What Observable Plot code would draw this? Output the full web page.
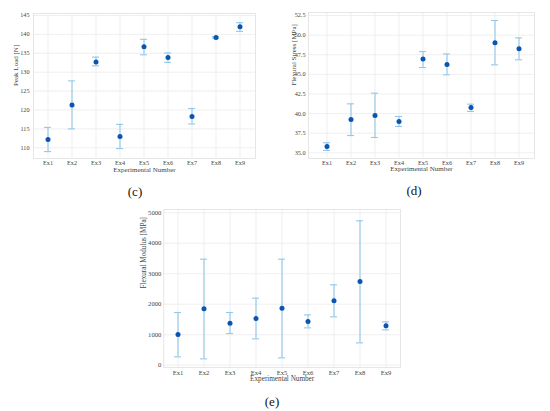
<!DOCTYPE html>
<html>
<head>
<meta charset="utf-8">
<script src="https://cdn.jsdelivr.net/npm/d3@7"></script>
<script src="https://cdn.jsdelivr.net/npm/@observablehq/plot@0.6"></script>
<style>
  html, body { margin: 0; padding: 0; background: #fff; }
  #root { position: relative; width: 550px; height: 411px; overflow: hidden; font-family: 'Liberation Serif', 'Times New Roman', serif; }
  .panel { position: absolute; }
  .tag { position: absolute; font-size: 13px; color: #111; transform: translate(-50%, -50%); white-space: nowrap; font-family: 'Liberation Serif', serif; }
</style>
</head>
<body>
<div id="root"></div>
<script>
const categories = ["Ex1", "Ex2", "Ex3", "Ex4", "Ex5", "Ex6", "Ex7", "Ex8", "Ex9"];

const peakLoadMean = [112.2, 121.3, 132.7, 113.0, 136.7, 133.9, 118.3, 139.2, 142.0];
const peakLoadLow  = [109.0, 115.0, 131.7, 109.8, 134.6, 132.6, 116.3, 139.0, 140.8];
const peakLoadHigh = [115.4, 127.7, 134.0, 116.2, 138.7, 135.1, 120.4, 139.4, 143.1];
const peakLoadTicks = [110, 115, 120, 125, 130, 135, 140, 145];

const stressMean = [35.8, 39.25, 39.76, 39.0, 46.94, 46.26, 40.78, 49.02, 48.25];
const stressLow  = [35.3, 37.2, 36.95, 38.36, 45.87, 44.94, 40.27, 46.21, 46.85];
const stressHigh = [36.28, 41.24, 42.6, 39.63, 47.9, 47.6, 41.2, 51.86, 49.65];
const stressTicks = [35.0, 37.5, 40.0, 42.5, 45.0, 47.5, 50.0, 52.5];

const modulusMean = [1006, 1849, 1379, 1532, 1871, 1433, 2112, 2746, 1291];
const modulusLow  = [274, 208, 1039, 864, 241, 1225, 1586, 733, 1160];
const modulusHigh = [1729, 3479, 1729, 2199, 3479, 1652, 2637, 4737, 1422];
const modulusTicks = [0, 1000, 2000, 3000, 4000, 5000];

const xTitle = "Experimental Number";
const panelTags = ["(c)", "(d)", "(e)"];

const root = document.getElementById("root");

function panel(cfg) {
  const rows = categories.map((c, i) => ({cat: c, mean: cfg.mean[i], low: cfg.low[i], high: cfg.high[i]}));
  const step = (cfg.c9 - cfg.c1) / 8;
  const svg = Plot.plot({
    width: cfg.width,
    height: cfg.height,
    marginLeft: cfg.ml, marginRight: cfg.mr, marginTop: cfg.mt, marginBottom: cfg.mb,
    style: {fontFamily: "'Liberation Serif', 'Times New Roman', serif", fontSize: cfg.tickFont + "px", color: "#444", background: "transparent", overflow: "visible"},
    x: {type: "band", domain: categories, range: [cfg.c1 - step / 2, cfg.c9 + step / 2], paddingInner: 0.72, paddingOuter: 0.36,
        tickSize: 0, tickPadding: cfg.xPad, label: null},
    y: {domain: [cfg.ticks[0], cfg.ticks[cfg.ticks.length - 1]], range: cfg.yRange, ticks: cfg.ticks,
        tickFormat: cfg.fmt, tickSize: 0, tickPadding: cfg.yPad, label: null},
    marks: [
      Plot.ruleY(cfg.ticks, {stroke: "#ebebeb", strokeWidth: 0.8}),
      Plot.ruleX(categories, {stroke: "#ebebeb", strokeWidth: 0.8}),
      Plot.frame({stroke: "#e0e0e0", strokeWidth: 0.8}),
      Plot.ruleX(rows, {x: "cat", y1: "low", y2: "high", stroke: "#92c8ea", strokeWidth: 1.1}),
      Plot.tickY(rows, {x: "cat", y: "low", stroke: "#92c8ea", strokeWidth: 1.1}),
      Plot.tickY(rows, {x: "cat", y: "high", stroke: "#92c8ea", strokeWidth: 1.1}),
      Plot.dot(rows, {x: "cat", y: "mean", r: 2.5, fill: "#0b55b0", stroke: "none"}),
      Plot.text([xTitle], {frameAnchor: "bottom", dy: cfg.xTitleDy, text: d => d, fontSize: cfg.labelFont, fill: "#444"}),
      Plot.text([cfg.yLabel], {frameAnchor: "left", dx: cfg.yTitleDx, rotate: -90, text: d => d, fontSize: cfg.labelFont, fill: "#444"})
    ]
  });
  const div = document.createElement("div");
  div.className = "panel";
  div.style.left = cfg.left + "px";
  div.style.top = cfg.top + "px";
  div.appendChild(svg);
  root.appendChild(div);
  const tag = document.createElement("div");
  tag.className = "tag";
  tag.textContent = cfg.tag;
  tag.style.left = cfg.tagX + "px";
  tag.style.top = cfg.tagY + "px";
  root.appendChild(tag);
}

panel({
  mean: peakLoadMean, low: peakLoadLow, high: peakLoadHigh, ticks: peakLoadTicks, fmt: d3.format("d"),
  yLabel: "Peak Load [N]", tag: panelTags[0],
  left: 0, top: 0, width: 270, height: 180, ml: 33, mr: 15, mt: 13, mb: 22,
  c1: 44.6, c9: 242.3, yRange: [147.3, 15],
  tickFont: 6.2, labelFont: 7, xPad: 2, yPad: 4, xTitleDy: 13, yTitleDx: -18,
  tagX: 135, tagY: 192
});

panel({
  mean: stressMean, low: stressLow, high: stressHigh, ticks: stressTicks, fmt: d3.format(".1f"),
  yLabel: "Flexural Stress [MPa]", tag: panelTags[1],
  left: 275, top: 0, width: 275, height: 180, ml: 33, mr: 16, mt: 12, mb: 22,
  c1: 50, c9: 245.7, yRange: [152.3, 15],
  tickFont: 6.2, labelFont: 7, xPad: 2, yPad: 3, xTitleDy: 12.5, yTitleDx: -15,
  tagX: 414, tagY: 191
});

panel({
  mean: modulusMean, low: modulusLow, high: modulusHigh, ticks: modulusTicks, fmt: d3.format("d"),
  yLabel: "Flexural Modulus [MPa]", tag: panelTags[2],
  left: 130, top: 195, width: 290, height: 190, ml: 33.3, mr: 20, mt: 14, mb: 18,
  c1: 45.7, c9: 257, yRange: [169.7, 17.3],
  tickFont: 6.6, labelFont: 7.2, xPad: 2.5, yPad: 2.5, xTitleDy: 13.3, yTitleDx: -20.5,
  tagX: 272, tagY: 402
});
</script>
</body>
</html>
